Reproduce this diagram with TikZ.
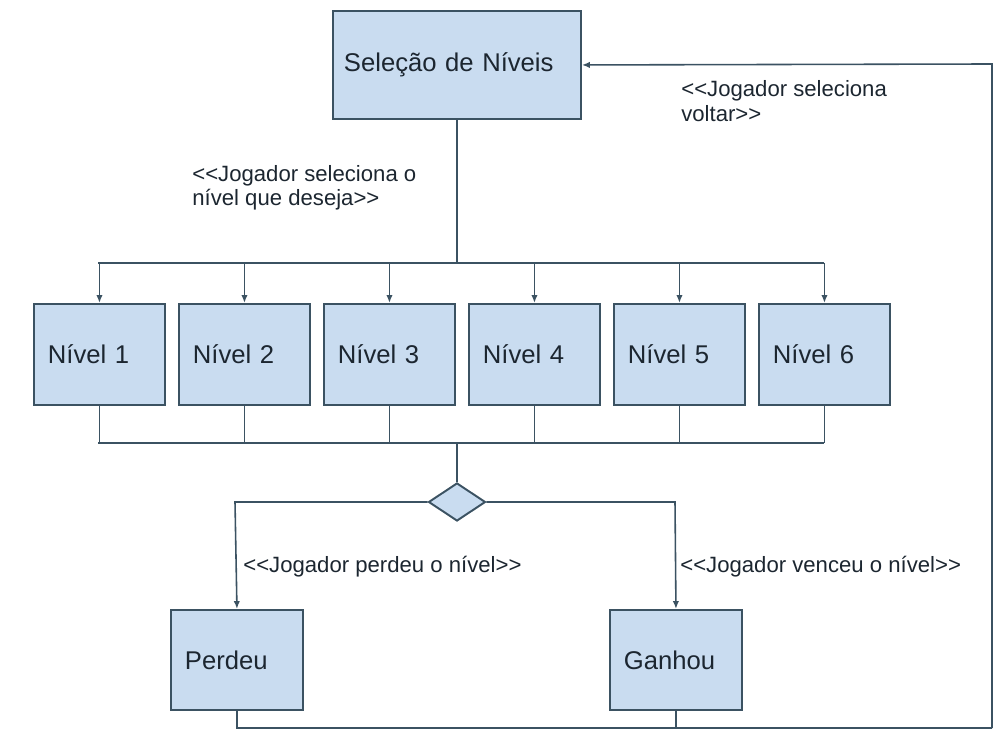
\documentclass[tikz,border=0pt]{standalone}
\usepackage{fontspec}
\setmainfont{Liberation Sans}[Ligatures=TeXOff]
\usetikzlibrary{arrows.meta,shapes.geometric}
\definecolor{boxfill}{HTML}{C9DCF0}
\definecolor{boxline}{HTML}{3B5262}
\definecolor{txt}{HTML}{1C2630}
\tikzset{
  blk/.style={draw=boxline, line width=1.1pt, fill=boxfill, rectangle, text=txt,
    inner xsep=0.28cm, inner ysep=0pt, align=left, anchor=north west,
    font=\fontsize{14.6}{17}\selectfont},
  lvl/.style={blk, text width=2.06cm, minimum height=2.02cm},
  endbox/.style={blk, text width=2.08cm, minimum height=2.0cm},
  conn/.style={draw=boxline, line width=0.9pt},
  arr/.style={conn, -{Latex[length=4.5pt,width=3.6pt]}},
  lbl/.style={text=txt, align=left, anchor=west, inner sep=0pt,
    font=\fontsize{12.6}{13.8}\selectfont},
  dia/.style={draw=boxline, line width=1.1pt, fill=boxfill, diamond, inner sep=0pt,
    minimum width=1.14cm, minimum height=0.76cm, aspect=1.5}
}
\begin{document}
\begin{tikzpicture}[x=0.02cm, y=-0.02cm]
\useasboundingbox (0,0) rectangle (993,742);
% title
\node[blk, text width=4.52cm, minimum height=2.16cm, inner xsep=0.22cm] (title) at (332,10) {Seleção de Níveis};
% levels
\node[lvl] (n1) at (33,303) {Nível 1};
\node[lvl] (n2) at (178,303) {Nível 2};
\node[lvl] (n3) at (323,303) {Nível 3};
\node[lvl] (n4) at (468,303) {Nível 4};
\node[lvl] (n5) at (613,303) {Nível 5};
\node[lvl] (n6) at (758,303) {Nível 6};
% junctions
\coordinate (jtop) at (457,263);
\coordinate (jl) at (98,263);
\coordinate (jr) at (824,263);
\coordinate (jbot) at (457,443);
\coordinate (bl) at (98,443);
\coordinate (br) at (824,443);
% diamond
\node[dia] (d) at (457,502) {};
% end boxes
\node[endbox] (per) at (170,609) {Perdeu};
\node[endbox] (gan) at (609,609) {Ganhou};
\coordinate (dl) at (235,502);
\coordinate (dr) at (675,502);
\coordinate (bb) at (992,728);
\coordinate (bt) at (992,64);
% connectors
\draw[conn] (title.south -| jtop) -- (jtop);
\draw[conn] (jl) -- (jr);
\foreach \n in {n1,n2,n3,n4,n5,n6}{
  \draw[arr] (jl -| \n.north) -- (\n.north);
  \draw[conn] (\n.south) -- (bl -| \n.south);
}
\draw[conn] (bl) -- (br);
\draw[conn] (jbot) -- (d.north);
\draw[arr] (d.west) -- (dl) -- (per.north);
\draw[arr] (d.east) -- (dr) -- (gan.north);
\draw[conn] (per.south) -- (per.south |- bb) -- (bb);
\draw[conn] (gan.south) -- (gan.south |- bb);
\draw[arr] (bb) -- (bt) -- (title.east);
% labels
\node[lbl] (l1) at (192,188) {<<Jogador seleciona o\\nível que deseja>>};
\node[lbl] (l2) at (681,101) {<<Jogador seleciona\\voltar>>};
\node[lbl] (l3) at (243,567) {<<Jogador perdeu o nível>>};
\node[lbl] (l4) at (680,567) {<<Jogador venceu o nível>>};
\end{tikzpicture}
\end{document}
